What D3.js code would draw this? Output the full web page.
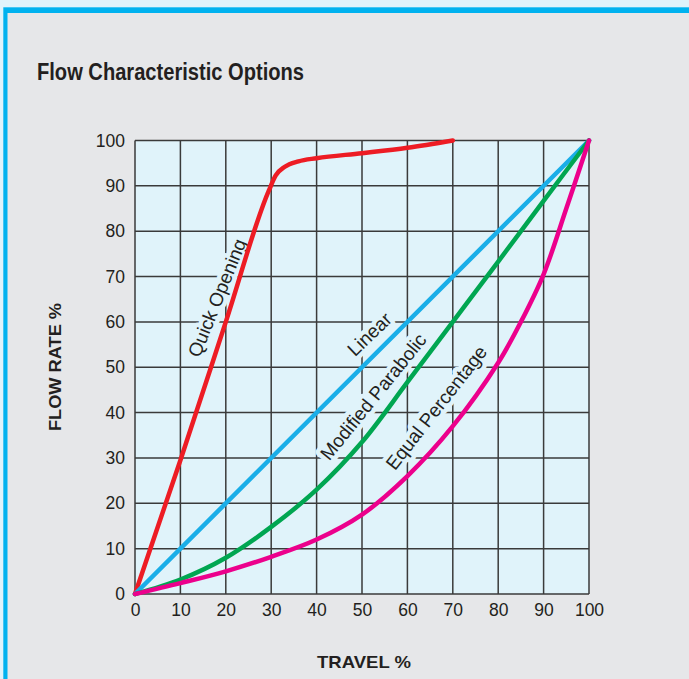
<!DOCTYPE html>
<html>
<head>
<meta charset="utf-8">
<script src="https://cdn.jsdelivr.net/npm/d3@7"></script>
<style>
  html, body { margin: 0; padding: 0; background: #dff3fb; }
  svg { display: block; }
</style>
</head>
<body>
<svg id="chart" width="689" height="679"></svg>
<script>
// ---------- data ----------
const title = "Flow Characteristic Options";
const xTitle = "TRAVEL %";
const yTitle = "FLOW RATE %";
const xTicks = [0, 10, 20, 30, 40, 50, 60, 70, 80, 90, 100];
const yTicks = [0, 10, 20, 30, 40, 50, 60, 70, 80, 90, 100];

const seriesNames = ["Quick Opening", "Linear", "Modified Parabolic", "Equal Percentage"];
const quickOpening = [[0,0],[10,29.5],[20,60],[29.5,89],[31,92.3],[33,94.2],[36,95.4],[40,96.1],[50,97.2],[60,98.4],[70,100]];
const linear = [[0,0],[100,100]];
const modifiedParabolic = [[0,0],[10,3.2],[20,8],[30,14.8],[40,23],[50,33.5],[60,46.7],[70,60],[80,73.3],[90,86.7],[100,100]];
const equalPercentage = [[0,0],[10,2.4],[20,5],[30,8.2],[40,12],[50,17.5],[60,26],[70,37],[80,51],[85,60],[90,70.5],[95,85],[100,100]];

// ---------- layout ----------
const svg = d3.select("#chart");
const W = 689, H = 679;
const plot = { left: 135, right: 589, top: 140.5, bottom: 594 };
const colors = ["#ed1c24", "#1aaee8", "#00a651", "#ec008c"];
const plotBg = "#e0f3fa";
const gridColor = "#3a3a3a";
const font = "Liberation Sans, Arial, sans-serif";

// frame
svg.append("rect").attr("x", 0).attr("y", 0).attr("width", W).attr("height", H).attr("fill", "#dff3fb");
svg.append("rect").attr("x", 3.3).attr("y", 7.3).attr("width", W).attr("height", H).attr("fill", "#00b2ef");
svg.append("rect").attr("x", 7.5).attr("y", 13).attr("width", W).attr("height", H).attr("fill", "#e6e7e9");

// title
svg.append("text")
  .attr("x", 37).attr("y", 79.5)
  .attr("font-family", font)
  .attr("font-weight", "bold").attr("font-size", 23)
  .attr("fill", "#231f20")
  .attr("textLength", 267).attr("lengthAdjust", "spacingAndGlyphs")
  .text(title);

const x = d3.scaleLinear().domain([0, 100]).range([plot.left, plot.right]);
const y = d3.scaleLinear().domain([0, 100]).range([plot.bottom, plot.top]);

// plot background
svg.append("rect")
  .attr("x", plot.left).attr("y", plot.top)
  .attr("width", plot.right - plot.left).attr("height", plot.bottom - plot.top)
  .attr("fill", plotBg);

// grid
const grid = svg.append("g");
grid.selectAll("line.v").data(xTicks).join("line")
  .attr("x1", d => x(d)).attr("x2", d => x(d))
  .attr("y1", plot.top).attr("y2", plot.bottom)
  .attr("stroke", gridColor).attr("stroke-width", 1.5);
grid.selectAll("line.h").data(yTicks).join("line")
  .attr("x1", plot.left).attr("x2", plot.right)
  .attr("y1", d => y(d)).attr("y2", d => y(d))
  .attr("stroke", gridColor).attr("stroke-width", 1.5);

// axes (labels only)
const xAxis = d3.axisBottom(x).tickValues(xTicks).tickSize(0).tickPadding(10).tickFormat(d3.format("d"));
const yAxis = d3.axisLeft(y).tickValues(yTicks).tickSize(0).tickPadding(10).tickFormat(d3.format("d"));
const gx = svg.append("g").attr("transform", `translate(0,${plot.bottom})`).call(xAxis);
const gy = svg.append("g").attr("transform", `translate(${plot.left},0)`).call(yAxis);
[gx, gy].forEach(g => {
  g.select(".domain").remove();
  g.selectAll("text")
    .attr("font-family", font)
    .attr("font-size", 17.5)
    .attr("fill", "#231f20");
});

// axis titles
svg.append("text")
  .attr("x", 364).attr("y", 668)
  .attr("text-anchor", "middle")
  .attr("font-family", font)
  .attr("font-weight", "bold").attr("font-size", 17)
  .attr("fill", "#231f20")
  .attr("textLength", 94).attr("lengthAdjust", "spacingAndGlyphs")
  .text(xTitle);
svg.append("text")
  .attr("transform", "translate(60.5,367) rotate(-90)")
  .attr("text-anchor", "middle")
  .attr("font-family", font)
  .attr("font-weight", "bold").attr("font-size", 17)
  .attr("fill", "#231f20")
  .attr("textLength", 128).attr("lengthAdjust", "spacingAndGlyphs")
  .text(yTitle);

// curve labels (with halo that breaks grid lines)
const labelPlacement = [
  { at: [18.8, 65.0], angle: -68 },
  { at: [52.2, 56.7], angle: -44 },
  { at: [53.1, 43.0], angle: -51 },
  { at: [67.0, 40.6], angle: -52 }
];
const labels = svg.append("g");
seriesNames.forEach((name, i) => {
  const p = labelPlacement[i];
  labels.append("text")
    .attr("transform", `translate(${x(p.at[0])},${y(p.at[1])}) rotate(${p.angle})`)
    .attr("text-anchor", "middle")
    .attr("dy", 3)
    .attr("font-family", font)
    .attr("font-size", 19)
    .attr("fill", "#231f20")
    .attr("stroke", plotBg).attr("stroke-width", 9)
    .attr("stroke-linejoin", "round")
    .attr("paint-order", "stroke")
    .text(name);
});

// curves
const seriesData = [quickOpening, linear, modifiedParabolic, equalPercentage];
const curveTypes = [d3.curveMonotoneX, d3.curveLinear, d3.curveCatmullRom, d3.curveCatmullRom];
svg.append("g").selectAll("path").data(seriesData).join("path")
  .attr("d", (d, i) => d3.line().x(p => x(p[0])).y(p => y(p[1])).curve(curveTypes[i])(d))
  .attr("fill", "none")
  .attr("stroke", (d, i) => colors[i])
  .attr("stroke-width", 4.5)
  .attr("stroke-linecap", "round")
  .attr("stroke-linejoin", "round");
</script>
</body>
</html>
